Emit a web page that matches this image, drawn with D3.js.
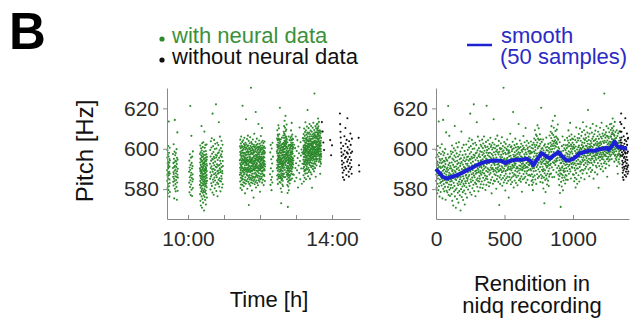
<!DOCTYPE html>
<html>
<head>
<meta charset="utf-8">
<script src="https://cdn.jsdelivr.net/npm/d3@7"></script>
<style>
body { margin: 0; background: #fff; }
text { font-family: "Liberation Sans", Arial, sans-serif; }
</style>
</head>
<body>
<svg id="fig" width="634" height="325"></svg>
<script>
// recording sessions: start / end time in hours, with or without neural data
var sessionStart  = [9.42, 9.58, 10.03, 10.33, 10.61, 11.44, 12.28, 12.47, 12.93, 13.20, 13.72, 13.95, 14.22, 14.74];
var sessionEnd    = [9.50, 9.72, 10.14, 10.53, 10.97, 12.14, 12.36, 12.92, 13.19, 13.70, 13.78, 14.00, 14.56, 14.76];
var sessionNeural = [true, true, true, true, true, true, true, true, true, true, false, false, false, false];

// pitch [Hz] of every rendition, per session, in recording order
var pA1 = [589.4, 584.1, 595.7, 587.2, 599.3, 580.6, 592.8, 586.5, 597.1, 577.9, 593.6, 590.2, 582.7, 601.4, 585.3,
  591.9, 588.0, 579.5, 596.2, 590.8, 613.5, 586.9, 581.4, 598.0, 588.6, 593.1, 576.3, 594.9, 584.8, 591.2, 600.5,
  583.0, 587.7, 594.2, 578.6];
var pA2 = [590.5, 597.4, 586.1, 583.6, 592.9, 588.3, 581.8, 602.2, 587.5, 595.0, 585.2, 590.9, 575.4, 593.3, 598.6,
  584.0, 589.1, 614.3, 580.2, 591.6, 596.8, 586.4, 582.5, 594.0, 589.7, 578.9, 597.9, 587.9, 584.5, 593.7, 591.0,
  581.1, 599.8, 586.0, 592.4, 574.7, 595.5, 588.8, 583.3, 608.1, 587.1, 594.6, 579.2, 590.1, 585.7];
var pB = [588.6, 583.2, 594.1, 578.4, 590.7, 585.9, 597.3, 581.0, 589.5, 621.2, 584.4, 592.0, 577.1, 586.8, 595.6,
  582.3, 588.1, 606.4, 579.7, 593.0, 585.5, 590.2, 576.6, 596.1, 583.8, 591.4, 587.3, 580.5, 598.7, 584.9];
var pC = [590.3, 582.1, 597.4, 586.6, 577.5, 593.2, 584.0, 601.6, 588.9, 574.2, 595.1, 589.6, 580.7, 598.3, 585.4,
  592.0, 571.9, 587.8, 594.5, 583.1, 600.2, 586.3, 578.8, 590.9, 596.6, 581.6, 589.1, 611.3, 576.4, 593.7, 585.0,
  599.1, 579.6, 588.4, 595.8, 570.8, 591.2, 584.5, 602.7, 586.9, 580.3, 597.7, 589.9, 575.1, 594.0, 585.7, 592.4,
  582.8, 600.8, 578.2, 587.6, 596.2, 581.9, 590.6, 573.3, 593.0, 586.1, 603.2, 583.7, 589.3, 579.0, 597.0, 587.3,
  594.8, 577.0, 584.9, 591.5, 582.4, 598.6, 569.4, 592.7, 586.0, 595.3, 580.0, 588.7, 608.5, 583.4, 593.4, 576.1,
  590.0, 584.2, 600.5, 581.3, 587.9, 596.9, 578.5, 592.2, 586.4, 574.6, 594.3, 589.4, 582.6, 601.9, 585.2, 591.0,
  579.3, 595.6, 588.2, 581.7, 598.9, 572.4, 589.7, 593.8, 583.9, 590.4, 577.7, 597.2, 586.7, 582.9, 592.6, 587.1,
  602.1, 580.9, 594.6, 585.6, 589.0, 575.8, 595.9, 584.1, 591.7];
var pD = [592.6, 585.1, 599.4, 588.3, 579.8, 596.2, 590.5, 603.7, 586.2, 594.1, 582.9, 600.6, 591.3, 587.0, 605.2,
  581.6, 597.5, 589.8, 595.0, 578.3, 617.4, 588.6, 594.7, 584.8, 601.3, 592.9, 583.5, 598.4, 590.1, 577.2, 596.0,
  587.4, 604.4, 591.8, 585.7, 595.3, 580.4, 599.9, 589.5, 584.3, 593.6, 602.5, 588.0, 582.2, 597.0, 591.1, 622.0,
  586.8, 595.7, 579.1, 600.1, 590.8, 585.9, 596.6, 592.3, 583.2, 603.0, 588.9, 576.5, 594.4, 597.8, 587.6, 591.6,
  582.6, 601.8, 589.2, 584.6, 598.1, 613.1, 588.1, 595.5, 581.2, 592.0, 599.2, 585.4, 590.3, 606.0, 584.0, 594.0,
  589.6, 578.9, 596.4, 588.4, 600.3, 592.7, 583.8, 597.3, 586.5, 604.0, 590.9, 585.2, 595.9, 580.8, 598.7, 589.0,
  587.9, 602.0, 582.4, 593.9, 591.4];
var pE = [594.3, 587.1, 601.2, 590.6, 583.8, 598.4, 592.7, 604.5, 588.2, 596.9, 580.5, 594.8, 600.3, 589.4, 585.6,
  602.6, 592.1, 582.3, 597.7, 591.5, 606.1, 587.8, 595.9, 590.2, 599.0, 584.4, 593.3, 601.5, 586.7, 596.4, 594.0,
  579.6, 600.7, 590.9, 585.3, 603.4, 595.2, 589.0, 582.1, 598.1, 621.3, 592.4, 586.3, 599.3, 594.6, 584.9, 601.0,
  590.3, 596.8, 588.5, 604.2, 593.0, 583.4, 597.9, 589.7, 594.2, 600.0, 581.4, 592.9, 596.2, 587.2, 602.3, 594.4,
  589.3, 598.0, 583.1, 593.6, 605.4, 588.0, 595.6, 590.7, 600.9, 584.6, 594.9, 601.7, 591.8, 577.9, 597.4, 589.9,
  593.8, 599.6, 585.9, 594.1, 603.0, 590.5, 596.6, 582.7, 593.1, 600.5, 588.7, 595.4, 614.6, 589.6, 598.3, 584.2,
  592.6, 602.1, 587.4, 594.5, 591.9, 583.9, 600.2, 593.4, 589.1, 597.1, 604.8, 586.9, 594.7, 590.4, 598.7, 580.2,
  595.7, 601.3, 588.3, 593.9, 585.0, 599.5, 592.2, 606.5, 589.8, 594.0, 586.5, 598.2, 590.8, 601.6, 583.6, 592.5,
  597.2, 588.8, 603.9, 594.3, 589.2, 572.1, 598.5, 591.6, 585.8, 600.4, 593.5, 582.6, 596.0, 590.0, 599.8, 587.0,
  594.9, 602.7, 589.5, 597.0, 584.8, 593.2, 600.1, 591.3, 605.7, 588.4, 595.8, 581.7, 598.6, 590.6, 594.3, 601.4,
  585.5, 593.7, 597.5, 589.0, 630.2, 599.1, 583.3, 594.6, 590.1, 603.3, 586.6, 595.1, 592.8, 600.6, 584.5, 591.4,
  598.0, 579.3, 594.1, 588.9, 602.4, 587.6, 597.3, 593.1, 585.4, 600.0, 591.7, 594.8, 582.9, 599.4, 589.4, 604.6,
  595.5, 586.2, 592.3, 601.1, 590.5, 597.6, 584.1, 593.6, 598.4, 591.2, 575.8, 599.2, 589.7, 596.3, 586.0, 602.0,
  592.6, 598.1, 587.7, 594.2, 590.0, 607.4, 584.7, 596.5, 591.1, 600.8, 582.4, 593.3, 595.3, 589.3, 601.2, 585.7,
  594.0, 598.8, 590.3, 583.5, 599.7, 592.0, 588.1, 603.5, 595.0, 591.5, 618.2, 586.4, 597.0, 594.4, 580.8, 600.2,
  590.8, 596.1, 587.3, 593.0, 601.8, 584.3, 598.3, 591.9, 594.7, 589.1, 605.0, 596.7, 586.8, 592.7, 600.7, 583.0,
  595.6, 590.2, 599.0, 585.9, 594.1, 602.4, 591.0, 597.4, 588.6, 594.3, 581.9, 599.6, 590.4, 595.9, 601.0, 586.6,
  593.8, 598.2, 612.3, 589.2, 594.6, 584.4, 600.3, 591.7, 597.1, 587.9, 595.2, 604.1, 590.1, 598.0, 585.2, 593.4,
  600.9, 591.4, 583.7, 596.3, 589.6, 602.5, 594.9, 586.3, 599.3, 592.4, 578.7, 595.8, 590.6, 598.5, 589.4, 593.9,
  601.5, 584.9, 592.8, 599.8, 591.3, 606.3, 587.5, 595.0, 590.3, 600.5, 594.2, 585.4, 597.2, 592.1, 603.2, 588.8,
  596.0, 591.6, 599.5, 586.1, 594.5, 610.3, 590.6, 598.1, 583.2, 595.3, 601.6, 592.9, 587.8, 597.3, 591.0, 604.0,
  589.0, 594.7, 599.9, 584.6, 595.4, 590.7, 600.6, 593.5, 586.9, 598.6, 592.2, 602.8, 589.5, 596.1, 582.0, 599.0,
  591.8, 594.0, 597.6, 587.1, 601.1, 592.6, 598.9, 590.0, 595.7, 586.5, 597.7, 593.7, 603.6, 589.3, 598.2, 592.3,
  584.0, 600.4, 591.2];
var pF = [587.4, 598.2, 582.1, 601.9, 590.3, 584.6, 594.8, 579.5, 600.1, 586.0, 592.7, 583.3, 603.0, 588.8, 596.1];
var pG = [598.6, 590.4, 605.1, 594.3, 602.0, 586.7, 597.8, 609.2, 592.1, 600.9, 584.8, 599.4, 604.3, 593.5, 589.1,
  607.0, 596.5, 582.6, 601.8, 595.2, 591.0, 606.3, 597.6, 587.4, 603.1, 594.4, 611.6, 592.0, 600.2, 585.5, 605.0,
  596.2, 589.8, 601.1, 593.1, 610.1, 595.6, 586.3, 604.4, 598.0, 594.6, 601.3, 588.6, 607.2, 596.8, 590.9, 602.5,
  583.5, 598.9, 593.6, 604.7, 587.1, 595.9, 620.3, 592.4, 600.0, 585.4, 603.4, 594.8, 589.6, 593.2, 586.4, 600.3,
  591.1, 583.2, 597.9, 588.9, 604.6, 593.9, 580.3, 599.2, 590.0, 595.3, 585.7, 601.5, 592.6, 573.0, 596.6, 587.9,
  594.5, 602.2, 589.3, 584.5, 598.1, 592.5, 578.6, 595.0, 600.6, 586.8, 591.6, 605.5, 593.7, 585.2, 599.3, 590.7,
  596.9, 582.3, 592.9, 601.0, 587.6, 595.4, 591.4, 599.0, 584.2, 593.4, 602.4, 589.0, 597.1, 581.5, 592.2, 600.4,
  586.2, 598.2, 590.2, 606.6, 594.0, 587.3, 596.0, 591.8, 599.6, 603.0, 596.3, 608.4, 592.6, 601.2, 587.7, 605.3,
  598.5, 611.2, 594.9, 602.1, 590.8, 607.6, 599.8, 585.9, 604.0, 597.0, 613.9, 593.3, 601.4, 595.8, 606.8, 589.5,
  602.6, 598.4, 610.4, 593.0, 603.6, 586.0, 600.1, 605.7, 594.2, 601.6, 616.3, 596.4, 604.2, 591.9, 608.8, 597.3,
  602.8, 593.6, 601.0, 606.0, 595.0, 588.3, 603.3, 597.5, 609.5, 594.1, 602.3, 590.5, 605.2, 599.1, 595.5, 612.0,
  596.9, 604.5, 587.2, 600.7, 598.3, 591.5, 584.9, 597.2, 589.1, 600.0, 582.0, 594.3, 586.5, 603.2, 590.3, 578.1,
  595.7, 587.8, 596.1, 592.8, 571.2, 589.4, 598.6, 583.6, 593.0, 597.9, 587.5, 594.6, 581.3, 601.3, 590.6, 585.6,
  596.7, 591.3, 606.1, 586.9, 593.8, 579.4, 599.0, 589.2, 595.2, 584.3, 602.0, 592.7, 588.5, 595.5, 590.1, 600.2,
  585.8, 594.1, 604.3, 588.8, 596.8, 582.8, 591.9, 599.3, 587.0, 593.4, 601.7, 584.7, 595.0, 590.4, 598.0, 586.6,
  593.9, 600.3, 592.3, 605.4, 596.2, 589.0, 602.0, 597.4, 584.6, 604.1, 594.7, 601.1, 591.2, 609.1, 593.6, 598.8,
  587.6, 603.0, 595.9, 592.0, 606.2, 597.0, 589.9, 601.4, 593.5, 612.8, 598.1, 588.7, 604.4, 594.6, 600.0, 585.3,
  602.1, 595.7, 592.5, 607.1, 598.7, 591.0, 601.2, 594.3, 605.0, 590.6, 597.6, 603.0, 593.1, 599.9, 587.3, 604.7,
  595.3, 600.8, 592.2];
var pG2 = [594.2, 587.1, 602.0, 596.4, 583.9, 600.3, 590.5, 606.1, 592.8, 585.6, 598.9, 589.3, 604.3, 595.4, 580.8,
  601.1, 591.7, 597.8, 588.0, 610.5, 593.9, 584.9, 603.2, 596.6, 590.2, 599.6, 582.7, 598.1, 592.6, 605.3];
var pH = [597.4, 590.2, 604.1, 594.6, 600.8, 586.9, 598.5, 607.3, 592.5, 601.6, 596.0, 583.8, 605.2, 599.3, 591.0,
  597.7, 610.0, 593.6, 600.4, 588.9, 598.2, 604.0, 592.3, 600.1, 585.6, 595.9, 606.4, 599.7, 593.2, 601.9, 589.6,
  608.3, 597.0, 603.1, 594.5, 587.7, 600.6, 598.0, 613.1, 593.9, 601.2, 595.6, 589.3, 605.0, 599.0, 592.0, 609.2,
  596.7, 602.9, 584.9, 600.0, 594.4, 604.4, 598.6, 590.1, 607.0, 599.5, 593.0, 601.5, 596.3, 605.3, 591.1, 598.9,
  611.0, 595.4, 601.4, 587.9, 603.7, 597.8, 594.1, 608.0, 600.3, 592.2, 602.5, 596.6, 619.2, 593.4, 599.9, 606.0,
  589.8, 597.9, 604.3, 595.0, 601.0, 586.4, 598.8, 607.4, 593.1, 602.2, 596.9, 600.7, 590.6, 610.2, 597.5, 594.3,
  603.8, 588.5, 601.3, 598.4, 595.2, 602.7, 593.0, 599.6, 608.0, 596.2, 589.4, 605.0, 598.3, 595.1, 612.3, 600.9,
  591.9, 597.7, 606.1, 599.2, 585.2, 603.9, 596.4, 602.0, 594.0, 598.7, 607.2, 593.3, 601.8, 596.5, 604.2, 588.3,
  599.4, 609.0, 595.5, 602.6, 597.2, 591.6, 604.8, 600.2, 594.6, 611.3, 598.1, 590.8, 601.7, 596.8, 603.5, 600.0,
  587.3, 606.2, 597.6, 602.3, 592.9, 599.8, 608.4, 595.3, 601.1, 580.7, 598.5, 604.9, 596.1, 602.8, 591.4, 600.5,
  607.1, 597.3, 601.6, 594.2, 610.4, 599.1, 595.8, 603.4, 589.9, 598.0, 605.9, 596.2, 602.4, 592.6, 600.3, 612.9,
  597.1, 605.1, 594.9, 601.0, 591.2, 599.7, 607.5, 596.0, 603.6, 598.2, 588.8, 606.3, 600.8, 594.7, 609.3, 597.4,
  602.9, 592.8, 599.9, 627.4, 596.6, 604.0, 598.8, 607.0, 593.7, 600.6, 597.0, 605.5, 590.4, 599.5, 608.1, 596.3,
  603.2, 598.1, 592.5, 611.2, 600.9, 594.8, 606.4, 599.2, 586.1, 604.1, 597.8, 602.1, 595.0, 606.0, 599.4, 596.0,
  610.1, 602.7, 593.8, 605.2, 598.3, 601.2, 591.7, 608.2, 597.3, 603.5, 600.0, 594.6, 612.1, 602.2, 596.3, 606.1,
  598.6, 603.3, 609.3, 599.6, 606.0, 597.0, 612.4, 601.5, 607.2, 594.9, 604.8, 610.2, 600.4, 608.0, 598.1, 603.6,
  615.0, 599.3, 607.3, 601.8, 609.0, 604.6, 597.4, 611.1, 600.7, 607.0, 598.4, 603.9, 593.6, 606.4, 599.6, 613.3,
  596.5, 602.6, 605.1, 597.0, 608.3, 600.1, 595.2, 603.3, 601.3, 598.8, 605.3, 594.4, 601.7, 609.2, 596.0, 602.1,
  591.3, 600.2, 606.3, 597.1, 603.0, 587.6, 601.4, 596.8, 607.6, 599.7, 593.5, 602.9, 597.6, 600.0, 594.8, 604.0,
  598.7, 608.6, 592.6, 601.6, 597.2, 605.4, 596.1];
var pK1 = [613.2, 608.5, 603.1, 599.4];
var pK2 = [604.3, 596.8, 601.7];
var pK3 = [617.5, 612.2, 608.4, 605.6, 603.0, 600.1, 598.3, 596.4, 594.0, 592.2, 590.6, 588.1, 585.9, 601.4, 597.2,
  593.1, 589.3, 584.6, 606.2, 599.0, 595.4, 591.1, 610.3, 602.5, 596.0, 590.2, 587.0, 604.4, 598.2, 593.6, 615.1,
  600.8, 597.6, 594.7, 591.5, 588.6, 586.2, 603.7, 599.6, 595.9, 592.8, 589.9, 607.5, 601.9, 597.9, 594.4, 590.9,
  587.6, 605.0, 598.6];
var pK4 = [605.4, 591.8, 588.7];
var sessionPitch = [pA1, pA2, pB, pC, pD, pE, pF, pG, pG2, pH, pK1, pK2, pK3, pK4];

// 50-sample running mean
var smoothRendition = [0, 25, 50, 78, 110, 150, 190, 224, 260, 297, 335, 370, 405, 443, 475, 504, 540, 589, 625,
  662, 690, 710, 740, 771, 800, 832, 865, 893, 925, 954, 980, 1003, 1030, 1051, 1090, 1124, 1160, 1190, 1221,
  1245, 1260, 1285, 1304, 1320, 1333, 1360, 1394];
var smoothPitch = [590, 588, 586, 585.2, 586, 586.8, 588, 589.3, 590.5, 591.8, 593, 593.7, 594, 594.2, 594, 592.9,
  594, 594.6, 594.5, 595.1, 594, 591.8, 595, 597.8, 596.5, 595.1, 597, 598.3, 596, 594.2, 594.5, 595.1, 596.5,
  597.8, 598.5, 599.2, 599, 599.8, 600, 600.5, 599.5, 601.5, 603.6, 601.5, 600.8, 600.5, 600];

var pitchTicks = [580, 600, 620];
var timeTicks = [10, 11, 12, 13, 14];
var timeLabels = ['10:00', '', '', '', '14:00'];
var renditionTicks = [0, 500, 1000];

var green = '#2d8a2d';
var blue = '#1c22d4';

// one row per rendition
var rows = [];
var n = 0;
sessionPitch.forEach(function (list, s) {
  list.forEach(function (p, j) {
    var t = sessionStart[s] + (sessionEnd[s] - sessionStart[s]) * (list.length > 1 ? j / (list.length - 1) : 0.5);
    rows.push({ time: t, rendition: n, pitch: p, neural: sessionNeural[s] });
    n++;
  });
});

var svg = d3.select('#fig');

var y = d3.scaleLinear().domain([565.2, 630.1]).range([219, 88]);
var xTime = d3.scaleLinear().domain([9.417, 14.778]).range([167, 360]);
var xRend = d3.scaleLinear().domain([0, 1409]).range([436, 629]);

function styleAxis(g) {
  g.selectAll('.domain, .tick line').attr('stroke', '#888');
  g.selectAll('.tick text').attr('fill', '#2a2a2a')
    .style('font-size', '21px').style('font-family', '"Liberation Sans", Arial, sans-serif');
}

function panel(x, xAxis, key, left) {
  var g = svg.append('g');
  g.selectAll('circle.dot')
    .data(rows)
    .join('circle')
    .attr('class', 'dot')
    .attr('cx', function (d) { return x(d[key]); })
    .attr('cy', function (d) { return y(d.pitch); })
    .attr('r', 1.05)
    .attr('fill', function (d) { return d.neural ? green : '#111'; });

  g.append('g')
    .attr('transform', 'translate(0,219)')
    .call(xAxis.tickSizeInner(-4).tickSizeOuter(0).tickPadding(12))
    .call(styleAxis);

  g.append('g')
    .attr('transform', 'translate(' + left + ',0)')
    .call(d3.axisLeft(y).tickValues(pitchTicks).tickSizeInner(4).tickSizeOuter(0).tickPadding(4))
    .call(styleAxis);
  return g;
}

panel(xTime, d3.axisBottom(xTime).tickValues(timeTicks).tickFormat(function (d, i) { return timeLabels[i]; }), 'time', 167);
var right = panel(xRend, d3.axisBottom(xRend).tickValues(renditionTicks).tickFormat(d3.format('d')), 'rendition', 436);

var line = d3.line()
  .x(function (d, i) { return xRend(smoothRendition[i]); })
  .y(function (d) { return y(d); });
right.append('path')
  .attr('d', line(smoothPitch))
  .attr('fill', 'none')
  .attr('stroke', blue)
  .attr('stroke-width', 4)
  .attr('stroke-linejoin', 'round');

// legends
svg.append('circle').attr('cx', 162).attr('cy', 39).attr('r', 2.6).attr('fill', green);
svg.append('text').attr('x', 172).attr('y', 43).attr('fill', '#3a913a').style('font-size', '22px').text('with neural data');
svg.append('circle').attr('cx', 162).attr('cy', 60).attr('r', 2.6).attr('fill', '#111');
svg.append('text').attr('x', 172).attr('y', 64).attr('fill', '#111').style('font-size', '22px').text('without neural data');

svg.append('line').attr('x1', 467).attr('x2', 492).attr('y1', 45).attr('y2', 45)
  .attr('stroke', blue).attr('stroke-width', 2.5);
svg.append('text').attr('x', 501).attr('y', 43).attr('fill', '#2b2bc4').style('font-size', '22px').text('smooth');
svg.append('text').attr('x', 500).attr('y', 64).attr('fill', '#2b2bc4').style('font-size', '22px').text('(50 samples)');

// panel letter and axis titles
svg.append('text').attr('x', 9).attr('y', 49).style('font-size', '51px').style('font-weight', 'bold').attr('fill', '#000').text('B');

svg.append('text').attr('transform', 'translate(93,151) rotate(-90)').attr('text-anchor', 'middle')
  .style('font-size', '24px').attr('fill', '#111').text('Pitch [Hz]');

svg.append('text').attr('x', 269).attr('y', 307).attr('text-anchor', 'middle')
  .style('font-size', '22px').attr('fill', '#111').text('Time [h]');
svg.append('text').attr('x', 532).attr('y', 291).attr('text-anchor', 'middle')
  .style('font-size', '22px').attr('fill', '#111').text('Rendition in');
svg.append('text').attr('x', 532).attr('y', 313).attr('text-anchor', 'middle')
  .style('font-size', '22px').attr('fill', '#111').text('nidq recording');
</script>
</body>
</html>
